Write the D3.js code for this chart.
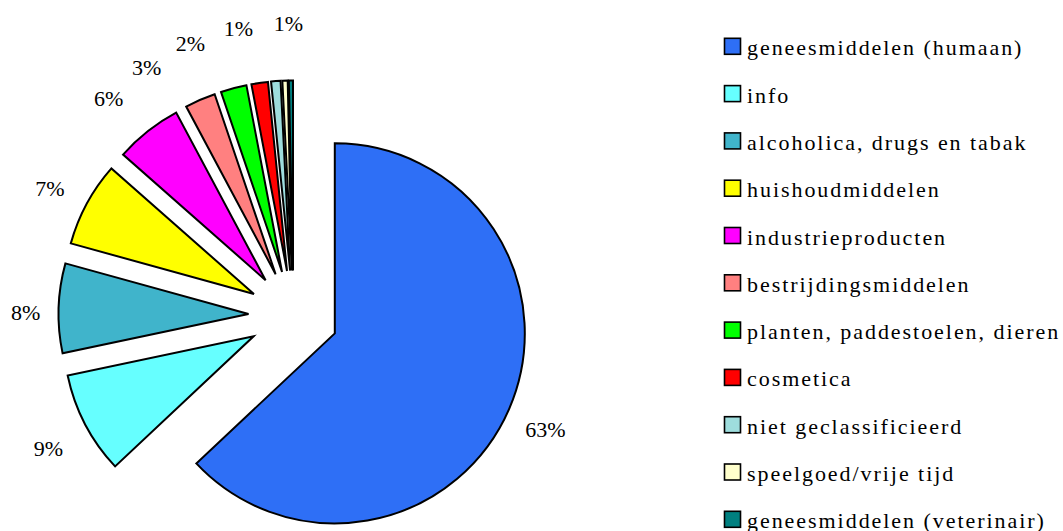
<!DOCTYPE html>
<html>
<head>
<meta charset="utf-8">
<script src="https://cdn.jsdelivr.net/npm/d3@7/dist/d3.min.js"></script>
</head>
<body style="margin:0">
<svg id="chart" width="1063" height="531"></svg>
<script>
// Categories of enquiries and their share (percent)
const categories = [
  "geneesmiddelen (humaan)",
  "info",
  "alcoholica, drugs en tabak",
  "huishoudmiddelen",
  "industrieproducten",
  "bestrijdingsmiddelen",
  "planten, paddestoelen, dieren",
  "cosmetica",
  "niet geclassificieerd",
  "speelgoed/vrije tijd",
  "geneesmiddelen (veterinair)"
];
const values = [63.0, 8.7, 7.6, 7.2, 5.7, 2.6, 2.2, 1.4, 0.8, 0.45, 0.35];
const colors = [
  "#2E6FF6", "#66FFFF", "#40B4CB", "#FFFF00", "#FF00FF", "#FF8080",
  "#00FF00", "#FF0000", "#9EDDDD", "#FFFFCC", "#008080"
];

const FONT = "Liberation Serif";
const svg = d3.select("#chart");

// pie geometry
const cx = 293.5, cy = 315.5;
const radius = 190;
const explode = 45;

const total = d3.sum(values);
const pie = d3.pie().sort(null).value(d => d);
const arcs = pie(values);
const arc = d3.arc().innerRadius(0).outerRadius(radius);
const pct = d3.format(".0%");

const g = svg.append("g").attr("transform", `translate(${cx},${cy})`);

// every slice pulled out along its own bisector
g.selectAll("path.slice")
  .data(arcs)
  .join("path")
  .attr("class", "slice")
  .attr("d", arc)
  .attr("transform", d => {
    const m = (d.startAngle + d.endAngle) / 2;
    return `translate(${explode * Math.sin(m)},${-explode * Math.cos(m)})`;
  })
  .attr("fill", (d, i) => colors[i])
  .attr("stroke", "#000")
  .attr("stroke-width", 2)
  .attr("stroke-linejoin", "miter");

// data labels: outside the pie, spread apart where they crowd together
const labels = arcs
  .map((d, i) => ({
    i,
    text: pct(d.value / total),
    ang: ((d.startAngle + d.endAngle) / 2) * 180 / Math.PI
  }))
  .filter(l => l.text !== "0%");

const minGap = 9.7, maxAng = 359;
for (let it = 0; it < 200; it++) {
  for (let k = 0; k < labels.length - 1; k++) {
    const diff = labels[k + 1].ang - labels[k].ang;
    if (diff < minGap) {
      const d = (minGap - diff) / 2;
      labels[k].ang -= d;
      labels[k + 1].ang += d;
    }
  }
  const last = labels[labels.length - 1];
  if (last.ang > maxAng) last.ang = maxAng;
}

// labels sit on a rounded-box ring around the pie
const ra = 268, rb = 297, pw = 2.1, ringDy = 5;
labels.forEach(l => {
  const t = l.ang * Math.PI / 180;
  const ux = Math.sin(t), uy = -Math.cos(t);
  const r = 1 / Math.pow(Math.pow(Math.abs(ux) / ra, pw) + Math.pow(Math.abs(uy) / rb, pw), 1 / pw);
  l.x = ux * r;
  l.y = uy * r + ringDy;
});

svg.selectAll("text.lbl")
  .data(labels)
  .join("text")
  .attr("class", "lbl")
  .attr("x", d => cx + d.x)
  .attr("y", d => cy + d.y + 7.5)
  .attr("text-anchor", "middle")
  .attr("font-size", 22)
  .style("font-family", FONT)
  .text(d => d.text);

// legend
const legendX = 724, legendY0 = 46.3, legendStep = 47.3, box = 16;

svg.selectAll("rect.key")
  .data(categories)
  .join("rect")
  .attr("class", "key")
  .attr("x", legendX + 0.5)
  .attr("y", (d, i) => legendY0 + i * legendStep - box / 2)
  .attr("width", box)
  .attr("height", box)
  .attr("fill", (d, i) => colors[i])
  .attr("stroke", "#000")
  .attr("stroke-width", 1.6);

svg.selectAll("text.name")
  .data(categories)
  .join("text")
  .attr("class", "name")
  .attr("x", legendX + 23)
  .attr("y", (d, i) => legendY0 + i * legendStep + 9)
  .attr("font-size", 22)
  .attr("letter-spacing", 1.95)
  .style("font-family", FONT)
  .text(d => d);
</script>
</body>
</html>
